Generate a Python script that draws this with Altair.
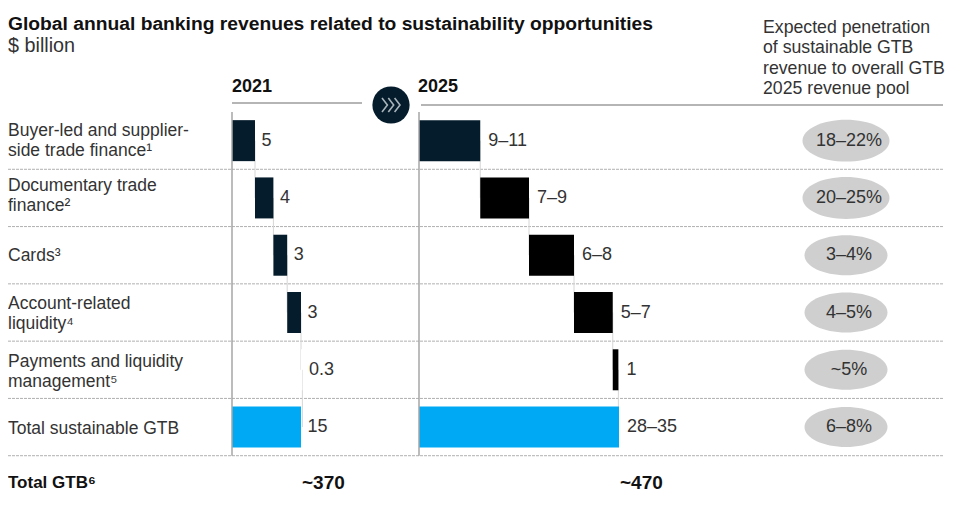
import altair as alt
import pandas as pd

rows = ["Buyer-led and supplier-\nside trade finance¹", "Documentary trade\nfinance²", "Cards³",
        "Account-related\nliquidity⁴", "Payments and liquidity\nmanagement⁵", "Total sustainable GTB"]
values_2021 = [5, 4, 3, 3, 0.3, 15]
labels_2021 = ["5", "4", "3", "3", "0.3", "15"]
values_2025 = [9.8, 7.8, 7.2, 6.2, 0.9, 32]
labels_2025 = ["9–11", "7–9", "6–8", "5–7", "1", "28–35"]
penetration = ["18–22%", "20–25%", "3–4%", "4–5%", "~5%", "6–8%"]
totals = ["~370", "~470"]
title = "Global annual banking revenues related to sustainability opportunities"
subtitle = "$ billion"
right_head = "Expected penetration\nof sustainable GTB\nrevenue to overall GTB\n2025 revenue pool"

FONT = "Liberation Sans"
INK = "#333333"
yscale = alt.Scale(domain=[0, 7], range=[104, 505], padding=0)


def frame(values, labels):
    starts, ends, s = [], [], 0
    for i, v in enumerate(values):
        if i == len(values) - 1:
            starts.append(0)
            ends.append(v)
        else:
            starts.append(s)
            s += v
            ends.append(s)
    return pd.DataFrame({"row": rows, "pos": [i + 0.5 for i in range(len(rows))],
                         "next": [i + 1.5 for i in range(len(rows))],
                         "start": starts, "end": ends, "label": labels})


def panel(df, xscale, colours, total, dx):
    X = lambda f: alt.X(f, scale=xscale, axis=None)
    Y = lambda f: alt.Y(f, scale=yscale, axis=None)
    conn = alt.Chart(df.iloc[:-1]).mark_rule(color="#d6d6d6", strokeWidth=1).encode(
        x=X("end:Q"), y=Y("pos:Q"), y2="next:Q")
    bars = alt.Chart(df).mark_bar(size=41).encode(
        x=X("start:Q"), x2="end:Q", y=Y("pos:Q"),
        color=alt.Color("row:N", scale=alt.Scale(domain=rows, range=colours), legend=None))
    axis_line = alt.Chart(df.iloc[:1]).mark_rule(color="#a6a6a6", strokeWidth=1.5).encode(
        x=alt.X(datum=0, scale=xscale, axis=None),
        y=alt.Y(datum=0, scale=yscale, axis=None), y2=alt.Y2(datum=6))
    labels = alt.Chart(df).mark_text(align="left", baseline="middle", dx=dx, font=FONT, fontSize=18, color=INK).encode(
        x=X("end:Q"), y=Y("pos:Q"), text="label:N")
    tot = alt.Chart(pd.DataFrame({"v": [df["end"].iloc[-1]], "p": [6.48], "t": [total]})).mark_text(
        align="left", baseline="middle", dx=1, font=FONT, fontSize=19, fontWeight="bold", color="#111111").encode(
        x=X("v:Q"), y=Y("p:Q"), text="t:N")
    return alt.layer(conn, bars, axis_line, labels, tot)


def free_text(text, x, y, size, weight="normal", color=INK, line=20.4):
    return alt.Chart(pd.DataFrame({"t": [text]})).mark_text(
        align="left", baseline="top", lineBreak="\n", lineHeight=line, font=FONT,
        fontSize=size, fontWeight=weight, color=color).encode(
        x=alt.value(x), y=alt.value(y), text="t:N")


p21 = panel(frame(values_2021, labels_2021), alt.Scale(domain=[0, 15], range=[224, 293]),
            ["#051c2c", "#051c2c", "#051c2c", "#051c2c", "#ffffff", "#00a9f4"], totals[0], 6.5)
p25 = panel(frame(values_2025, labels_2025), alt.Scale(domain=[0, 32], range=[411, 611]),
            ["#051c2c", "#000000", "#000000", "#000000", "#000000", "#00a9f4"], totals[1], 8)

base = pd.DataFrame({"row": rows, "pen": penetration, "pos": [i + 0.5 for i in range(len(rows))],
                     "sep": [i + 1 for i in range(len(rows))]})
# Vega centres only the first line of a wrapped label on the y position, so wrapped rows sit higher.
text_shift = [-0.16, -0.2, 0.01, -0.14, -0.13, 0.03]
base["text_pos"] = [p + s for p, s in zip(base["pos"], text_shift)]

separators = alt.Chart(base).mark_rule(color="#b0b0b0", strokeWidth=1, strokeDash=[3, 1]).encode(
    x=alt.value(0), x2=alt.value(935), y=alt.Y("sep:Q", scale=yscale, axis=None))
row_text = alt.Chart(base).mark_text(align="left", baseline="middle", lineBreak="\n", lineHeight=19.5,
                                     font=FONT, fontSize=17.5, color=INK).encode(
    x=alt.value(0), y=alt.Y("text_pos:Q", scale=yscale, axis=None), text="row:N")
total_text = alt.Chart(pd.DataFrame({"t": ["Total GTB⁶"], "p": [6.48]})).mark_text(
    align="left", baseline="middle", font=FONT, fontSize=17, fontWeight="bold", color="#111111").encode(
    x=alt.value(0), y=alt.Y("p:Q", scale=yscale, axis=None), text="t:N")

ELLIPSE = "M-1,0A1,0.482 0 1 1 1,0A1,0.482 0 1 1 -1,0Z"
ellipses = alt.Chart(base).mark_point(shape=ELLIPSE, filled=True, color="#cfcfcf", opacity=1).encode(
    x=alt.value(838), y=alt.Y("pos:Q", scale=yscale, axis=None),
    size=alt.condition(alt.FieldOneOfPredicate("row", rows[:2]), alt.value(7569), alt.value(6889)))
pen_text = alt.Chart(base).mark_text(align="center", baseline="middle", font=FONT, fontSize=18, color=INK).encode(
    x=alt.value(841), y=alt.Y("pos:Q", scale=yscale, axis=None), text="pen:N")

one = pd.DataFrame({"a": [1]})
rule_left = alt.Chart(one).mark_rule(color="#b5b5b5", strokeWidth=2).encode(
    x=alt.value(224), x2=alt.value(354), y=alt.value(95))
rule_right = alt.Chart(one).mark_rule(color="#b5b5b5", strokeWidth=2).encode(
    x=alt.value(413), x2=alt.value(935), y=alt.value(97))
circle = alt.Chart(one).mark_point(shape="circle", filled=True, color="#051c2c", opacity=1, size=1385).encode(
    x=alt.value(383), y=alt.value(97))
CHEV = "M-1,-0.78L-0.4,0L-1,0.78M-0.3,-0.78L0.3,0L-0.3,0.78M0.4,-0.78L1,0L0.4,0.78"
chevrons = alt.Chart(one).mark_point(shape=CHEV, filled=False, color="#a9b3ba", opacity=1, size=324, strokeWidth=1.6).encode(
    x=alt.value(383), y=alt.value(97))

chart = alt.layer(
    separators, rule_left, rule_right, circle, chevrons,
    p21, p25,
    row_text, total_text, ellipses, pen_text,
    free_text(title, 0, 7, 19.25, "bold", "#111111"),
    free_text(subtitle, 0, 28, 19.8),
    free_text("2021", 224, 70, 18, "bold", "#111111"),
    free_text("2025", 410, 70, 18, "bold", "#111111"),
    free_text(right_head, 755, 11, 17.7),
).resolve_scale(x="independent", color="independent").properties(
    width=954, height=490, padding=0, autosize=alt.AutoSizeParams(type="none")
).configure_view(stroke=None)

chart.save("out.html", embed_options={"renderer": "svg", "actions": False})
